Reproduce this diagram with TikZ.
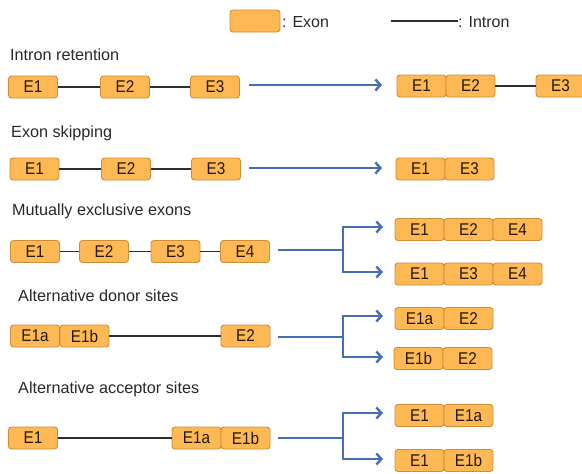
\documentclass[tikz,border=0pt]{standalone}
\usepackage{fontspec}
\setmainfont{Liberation Sans}
\newfontfamily\exonfont[FakeStretch=0.9]{Liberation Sans}
\usetikzlibrary{arrows.meta}
\definecolor{exonfill}{RGB}{255,185,84}
\definecolor{exondraw}{RGB}{205,142,55}
\definecolor{exontext}{RGB}{35,24,10}
\definecolor{arrowblue}{RGB}{70,110,180}
\definecolor{introngray}{RGB}{45,45,45}
\definecolor{titlegray}{RGB}{40,40,40}
\begin{document}
\begin{tikzpicture}[x=1pt,y=-1pt,
  exon/.style={draw=exondraw,fill=exonfill,line width=0.9pt,rounded corners=3pt,
    minimum width=49pt,minimum height=22pt,inner sep=0pt,text=exontext,
    font=\exonfont\fontsize{17}{17}\selectfont},
  intron/.style={draw=introngray,line width=1.4pt},
  blueline/.style={draw=arrowblue,line width=2.4pt},
  arr/.style={blueline,-{Straight Barb[length=5pt,width=11pt]}},
  ttl/.style={anchor=base west,inner sep=0pt,text=titlegray,font=\fontsize{16.2}{18}\selectfont},
  legtxt/.style={anchor=base west,inner sep=0pt,text=titlegray,font=\fontsize{16}{18}\selectfont}]
\useasboundingbox (0,0) rectangle (582,474);
% legend
\node[exon,minimum width=50pt] (lgbox) at (255,21) {};
\node[legtxt] (lgexon) at (282,27.5) {: Exon};
\coordinate (lgl1) at (391,21);
\coordinate (lgl2) at (458,21);
\draw[intron] (lgl1) -- (lgl2);
\node[legtxt] (lgintron) at (458,27.5) {: Intron};
% titles
\node[ttl] (t1) at (10,60) {Intron retention};
\node[ttl] (t2) at (11,137.5) {Exon skipping};
\node[ttl] (t3) at (12,215.5) {Mutually exclusive exons};
\node[ttl] (t4) at (18,301.5) {Alternative donor sites};
\node[ttl] (t5) at (18,393) {Alternative acceptor sites};
% row 1
\node[exon] (L1a) at (33,87) {E1};
\node[exon] (L1b) at (125,87) {E2};
\node[exon] (L1c) at (215,87) {E3};
\draw[intron] (L1a.east) -- (L1b.west);
\draw[intron] (L1b.east) -- (L1c.west);
\coordinate (a1s) at (249,85);
\coordinate (a1e) at (382,85);
\draw[arr] (a1s) -- (a1e);
\node[exon] (R1a) at (421.5,86) {E1};
\node[exon] (R1b) at (470.5,86) {E2};
\node[exon] (R1c) at (560.5,86) {E3};
\draw[intron] (R1b.east) -- (R1c.west);
% row 2
\node[exon] (L2a) at (34.5,169) {E1};
\node[exon] (L2b) at (126,169) {E2};
\node[exon] (L2c) at (216,169) {E3};
\draw[intron] (L2a.east) -- (L2b.west);
\draw[intron] (L2b.east) -- (L2c.west);
\coordinate (a2s) at (249,168);
\coordinate (a2e) at (382,168);
\draw[arr] (a2s) -- (a2e);
\node[exon] (R2a) at (420.5,169) {E1};
\node[exon] (R2b) at (469.5,169) {E3};
% row 3
\node[exon] (L3a) at (35,251.5) {E1};
\node[exon] (L3b) at (104,251.5) {E2};
\node[exon] (L3c) at (175.5,251.5) {E3};
\node[exon] (L3d) at (245,251.5) {E4};
\draw[intron] (L3a.east) -- (L3b.west);
\draw[intron] (L3b.east) -- (L3c.west);
\draw[intron] (L3c.east) -- (L3d.west);
\coordinate (a3s) at (278,250);
\coordinate (a3f) at (343,250);
\coordinate (a3u) at (383,227);
\coordinate (a3d) at (383,272);
\draw[blueline] (a3s) -- (a3f);
\draw[arr] (a3f) |- (a3u);
\draw[arr] (a3f) |- (a3d);
\node[exon] (U3a) at (419.5,229.5) {E1};
\node[exon] (U3b) at (468.5,229.5) {E2};
\node[exon] (U3c) at (517.5,229.5) {E4};
\node[exon] (D3a) at (419.5,274) {E1};
\node[exon] (D3b) at (468.5,274) {E3};
\node[exon] (D3c) at (517.5,274) {E4};
% row 4
\node[exon] (L4a) at (35,336) {E1a};
\node[exon] (L4b) at (84.5,336) {E1b};
\node[exon] (L4c) at (245.5,336) {E2};
\draw[intron] (L4b.east) -- (L4c.west);
\coordinate (a4s) at (278,337);
\coordinate (a4f) at (343,337);
\coordinate (a4u) at (383,316);
\coordinate (a4d) at (383,357);
\draw[blueline] (a4s) -- (a4f);
\draw[arr] (a4f) |- (a4u);
\draw[arr] (a4f) |- (a4d);
\node[exon] (U4a) at (419.5,318.5) {E1a};
\node[exon] (U4b) at (468.5,318.5) {E2};
\node[exon] (D4a) at (418.5,358.5) {E1b};
\node[exon] (D4b) at (467.5,358.5) {E2};
% row 5
\node[exon] (L5a) at (33,438) {E1};
\node[exon] (L5b) at (196.5,438) {E1a};
\node[exon] (L5c) at (245.5,438) {E1b};
\draw[intron] (L5a.east) -- (L5b.west);
\coordinate (a5s) at (278,438);
\coordinate (a5f) at (343,438);
\coordinate (a5u) at (383,413);
\coordinate (a5d) at (383,459);
\draw[blueline] (a5s) -- (a5f);
\draw[arr] (a5f) |- (a5u);
\draw[arr] (a5f) |- (a5d);
\node[exon] (U5a) at (419.5,415.5) {E1};
\node[exon] (U5b) at (468.5,415.5) {E1a};
\node[exon] (D5a) at (419.5,460.5) {E1};
\node[exon] (D5b) at (468.5,460.5) {E1b};
\end{tikzpicture}
\end{document}
